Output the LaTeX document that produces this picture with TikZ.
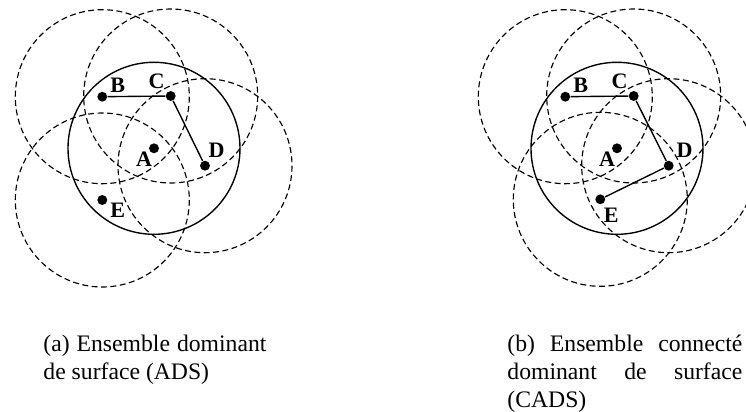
\documentclass[tikz,border=0pt]{standalone}
\usepackage{fontspec}
\setmainfont{Liberation Serif}
\usepackage{tikz}
\usetikzlibrary{positioning}

\begin{document}
\begin{tikzpicture}[x=0.435pt,y=-0.435pt,
  dot/.style={circle,fill=black,inner sep=0pt,minimum size=4.3pt},
  lbl/.style={inner sep=0pt,font=\fontsize{9.6}{11}\selectfont\bfseries},
  portee/.style={line width=0.5pt,dash pattern=on 2.6pt off 1.5pt},
  zone/.style={line width=0.6pt},
  legende/.style={inner sep=0pt,anchor=north west,align=justify,
    font=\fontsize{10.3}{12}\selectfont}]
\useasboundingbox (0,0) rectangle (746,412);
\clip (0,0) rectangle (746,412);

%(a) nodes
\node[dot] (a1) at (154,148.3) {};
\node[dot] (b1) at (102.3,96.7) {};
\node[dot] (c1) at (170.7,96) {};
\node[dot] (d1) at (205,165.7) {};
\node[dot] (e1) at (102.3,200) {};

%(a) ranges
\foreach \n in {b1,c1,d1,e1}
  \draw[portee] (\n) circle[radius=87];
\draw[zone] (a1) circle[radius=86];

%(a) links
\draw[zone] (b1) -- (c1);
\draw[zone] (c1) -- (d1);

%(a) labels
\node[lbl] (la1) at (144,159.3) {A};
\node[lbl] (lb1) at (117.7,85) {B};
\node[lbl] (lc1) at (156.7,81.7) {C};
\node[lbl] (ld1) at (216.7,150.7) {D};
\node[lbl] (le1) at (117.7,210) {E};

%(b) nodes
\node[dot] (a2) at (617,148.3) {};
\node[dot] (b2) at (565.3,96.7) {};
\node[dot] (c2) at (633.7,96) {};
\node[dot] (d2) at (668.7,165.7) {};
\node[dot] (e2) at (600.3,199.3) {};

%(b) ranges
\foreach \n in {b2,c2,d2,e2}
  \draw[portee] (\n) circle[radius=87];
\draw[zone] (a2) circle[radius=86];

%(b) links
\draw[zone] (b2) -- (c2);
\draw[zone] (c2) -- (d2);
\draw[zone] (d2) -- (e2);

%(b) labels
\node[lbl] (la2) at (607,159.3) {A};
\node[lbl] (lb2) at (580.7,85) {B};
\node[lbl] (lc2) at (619.7,81.7) {C};
\node[lbl] (ld2) at (684.7,150.7) {D};
\node[lbl] (le2) at (611.3,215) {E};

%captions
\node[legende,text width=97pt] (capa) at (43,335)
  {(a) Ensemble dominant de surface (ADS)};
\node[legende,text width=102.2pt] (capb) at (507,335)
  {(b) Ensemble connecté dominant de surface (CADS)};
\end{tikzpicture}
\end{document}
